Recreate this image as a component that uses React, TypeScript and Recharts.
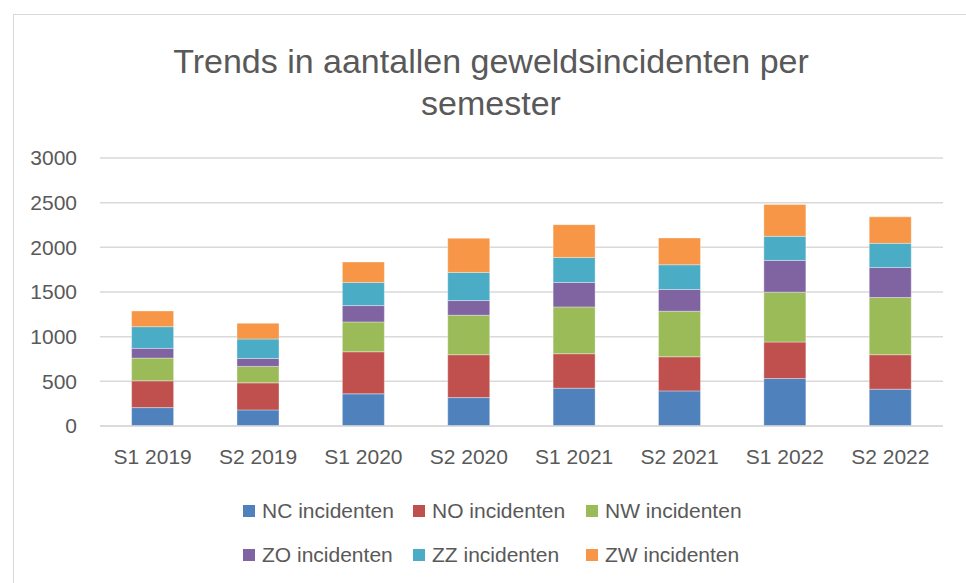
import { BarChart, Bar, XAxis, YAxis, CartesianGrid } from "recharts";

// semesters on the x axis
const semesters = [
  "S1 2019",
  "S2 2019",
  "S1 2020",
  "S2 2020",
  "S1 2021",
  "S2 2021",
  "S1 2022",
  "S2 2022",
];

// incidents per region, stacked bottom to top
const ncIncidenten = [206, 180, 360, 318, 423, 393, 532, 412];
const noIncidenten = [300, 303, 471, 480, 386, 382, 408, 386];
const nwIncidenten = [254, 184, 334, 442, 524, 510, 558, 640];
const zoIncidenten = [109, 89, 183, 164, 274, 243, 356, 337];
const zzIncidenten = [243, 218, 259, 315, 280, 277, 269, 270];
const zwIncidenten = [176, 176, 228, 382, 367, 300, 356, 296];

const yTicks = [0, 500, 1000, 1500, 2000, 2500, 3000];

const SERIES = [
  { key: "nc", name: "NC incidenten", color: "#4F81BD", values: ncIncidenten },
  { key: "no", name: "NO incidenten", color: "#C0504D", values: noIncidenten },
  { key: "nw", name: "NW incidenten", color: "#9BBB59", values: nwIncidenten },
  { key: "zo", name: "ZO incidenten", color: "#8064A2", values: zoIncidenten },
  { key: "zz", name: "ZZ incidenten", color: "#4BACC6", values: zzIncidenten },
  { key: "zw", name: "ZW incidenten", color: "#F79646", values: zwIncidenten },
];

const data = semesters.map((s, i) => {
  const row: Record<string, any> = { semester: s };
  SERIES.forEach((ser) => {
    row[ser.key] = ser.values[i];
  });
  return row;
});

const FONT = "'Liberation Sans', Arial, sans-serif";
const TEXT = "#595959";

// legend columns / rows (two rows of three)
const LEGEND_X = [243, 413, 586];
const LEGEND_Y = [511, 555];

export default function App() {
  return (
    <div
      style={{
        position: "absolute",
        left: 0,
        top: 0,
        width: 966,
        height: 583,
        overflow: "hidden",
        background: "#fff",
        fontFamily: FONT,
      }}
    >
      {/* chart frame */}
      <div
        style={{
          position: "absolute",
          left: 13,
          top: 14,
          width: 1000,
          height: 600,
          border: "1.5px solid #d9d9d9",
        }}
      />

      <div
        style={{
          position: "absolute",
          left: 0,
          top: 40,
          width: 982,
          textAlign: "center",
          fontSize: 34,
          lineHeight: "42px",
          color: TEXT,
        }}
      >
        Trends in aantallen geweldsincidenten per
        <br />
        semester
      </div>

      <div style={{ position: "absolute", left: 0, top: 0 }}>
        <BarChart
          width={966}
          height={583}
          data={data}
          margin={{ top: 158, right: 23, bottom: 117, left: 20 }}
          barCategoryGap="30%"
        >
          <CartesianGrid
            vertical={false}
            stroke="#d9d9d9"
            strokeWidth={1.5}
          />
          <XAxis
            dataKey="semester"
            height={40}
            axisLine={{ stroke: "#d9d9d9", strokeWidth: 1.5 }}
            tickLine={false}
            tickMargin={17}
            tick={{ fill: TEXT, fontSize: 21, fontFamily: FONT }}
          />
          <YAxis
            width={80}
            domain={[0, 3000]}
            ticks={yTicks}
            axisLine={false}
            tickLine={false}
            tickMargin={17}
            tick={{ fill: TEXT, fontSize: 21, fontFamily: FONT }}
          />
          {SERIES.map((s) => (
            <Bar
              key={s.key}
              dataKey={s.key}
              name={s.name}
              stackId="a"
              fill={s.color}
              stroke="rgba(255,255,255,0.35)"
              strokeWidth={1}
              isAnimationActive={false}
            />
          ))}
        </BarChart>
      </div>

      {SERIES.map((s, i) => (
        <div
          key={s.key}
          style={{
            position: "absolute",
            left: LEGEND_X[i % 3],
            top: LEGEND_Y[Math.floor(i / 3)] - 13,
            height: 26,
            display: "flex",
            alignItems: "center",
            fontSize: 21,
            color: TEXT,
            whiteSpace: "nowrap",
          }}
        >
          <span
            style={{
              display: "inline-block",
              width: 12,
              height: 12,
              background: s.color,
              marginRight: 7,
            }}
          />
          {s.name}
        </div>
      ))}
    </div>
  );
}
